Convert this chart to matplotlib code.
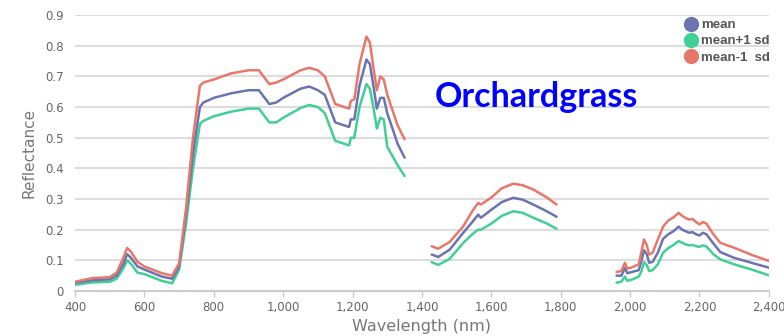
import numpy as np
import matplotlib.pyplot as plt
from matplotlib.lines import Line2D

# wavelength (nm); NaN separates the three spectral segments
wavelength = [400, 450, 500, 520, 540, 550, 560, 580, 600, 650, 680, 700, 720, 740, 760,
              770, 800, 850, 900, 930, 960, 980, 1000, 1050, 1075, 1100, 1120, 1150, 1190,
              1195, 1205, 1220, 1240, 1250, 1260, 1270, 1280, 1290, 1300, 1330, 1350,
              np.nan,
              1428, 1447, 1480, 1519, 1545, 1562, 1570, 1600, 1630, 1663, 1690, 1721, 1760, 1788,
              np.nan,
              1961, 1975, 1985, 1992, 2005, 2025, 2033, 2040, 2048, 2055, 2065, 2080, 2095, 2110,
              2125, 2140, 2150, 2160, 2170, 2180, 2190, 2200, 2210, 2220, 2240, 2260, 2300, 2350, 2400]

mean = [0.027, 0.035, 0.038, 0.05, 0.09, 0.12, 0.11, 0.08, 0.07, 0.047, 0.04, 0.08, 0.25, 0.45, 0.60,
        0.615, 0.63, 0.645, 0.655, 0.655, 0.61, 0.615, 0.63, 0.66, 0.667, 0.655, 0.64, 0.55, 0.535,
        0.56, 0.56, 0.67, 0.755, 0.74, 0.67, 0.595, 0.63, 0.63, 0.58, 0.48, 0.435,
        np.nan,
        0.119, 0.111, 0.135, 0.19, 0.225, 0.249, 0.239, 0.265, 0.29, 0.304, 0.298, 0.282, 0.26, 0.242,
        np.nan,
        0.05, 0.05, 0.075, 0.058, 0.062, 0.068, 0.10, 0.133, 0.12, 0.092, 0.095, 0.125, 0.17, 0.185,
        0.195, 0.21, 0.2, 0.195, 0.19, 0.192, 0.185, 0.181, 0.19, 0.185, 0.155, 0.127, 0.108, 0.092, 0.076]

mean_plus_sd = [0.02, 0.028, 0.03, 0.04, 0.075, 0.10, 0.09, 0.06, 0.055, 0.033, 0.025, 0.07, 0.22, 0.40, 0.545,
                0.555, 0.57, 0.585, 0.595, 0.595, 0.55, 0.55, 0.565, 0.597, 0.607, 0.60, 0.58, 0.49, 0.475,
                0.50, 0.50, 0.60, 0.675, 0.66, 0.60, 0.53, 0.565, 0.56, 0.47, 0.41, 0.375,
                np.nan,
                0.094, 0.085, 0.105, 0.157, 0.185, 0.20, 0.20, 0.22, 0.245, 0.26, 0.255, 0.239, 0.22, 0.203,
                np.nan,
                0.027, 0.03, 0.047, 0.033, 0.037, 0.047, 0.065, 0.094, 0.085, 0.065, 0.068, 0.087, 0.125, 0.14,
                0.15, 0.163, 0.157, 0.152, 0.149, 0.15, 0.146, 0.144, 0.149, 0.145, 0.12, 0.103, 0.087, 0.07, 0.051]

mean_minus_sd = [0.03, 0.042, 0.045, 0.06, 0.11, 0.14, 0.13, 0.095, 0.08, 0.058, 0.05, 0.09, 0.27, 0.50, 0.67,
                 0.68, 0.69, 0.71, 0.72, 0.72, 0.675, 0.68, 0.69, 0.72, 0.728, 0.72, 0.70, 0.61, 0.595,
                 0.62, 0.625, 0.74, 0.83, 0.81, 0.73, 0.655, 0.70, 0.69, 0.64, 0.54, 0.495,
                 np.nan,
                 0.146, 0.138, 0.16, 0.211, 0.26, 0.287, 0.282, 0.305, 0.335, 0.35, 0.345, 0.331, 0.305, 0.282,
                 np.nan,
                 0.062, 0.065, 0.092, 0.073, 0.077, 0.087, 0.13, 0.168, 0.15, 0.119, 0.125, 0.168, 0.21, 0.23,
                 0.24, 0.255, 0.245, 0.238, 0.233, 0.235, 0.225, 0.217, 0.225, 0.22, 0.185, 0.157, 0.141, 0.118, 0.098]

series_labels = ['mean', 'mean+1 sd', 'mean-1  sd']
series_colors = ['#6b73b0', '#40cf95', '#e8776b']

fig = plt.figure(figsize=(7.84, 3.36), dpi=100)
ax = fig.add_axes([0.0957, 0.134, 0.885, 0.821])

for y, c in [(mean_plus_sd, series_colors[1]), (mean, series_colors[0]), (mean_minus_sd, series_colors[2])]:
    ax.plot(wavelength, y, color=c, lw=1.8, solid_capstyle='round')

ax.set_xlim(400, 2400)
ax.set_ylim(0, 0.9)
ax.set_xticks(np.arange(400, 2401, 200))
ax.set_xticklabels([f'{v:,}' for v in range(400, 2401, 200)])
ax.set_yticks(np.arange(0, 0.91, 0.1))
ax.set_yticklabels(['0'] + [f'{v:.1f}' for v in np.arange(0.1, 0.91, 0.1)])

ax.grid(axis='y', color='#dddddd', lw=1.5)
ax.set_axisbelow(True)
for s in ['top', 'right', 'left']:
    ax.spines[s].set_visible(False)
ax.spines['bottom'].set_color('#cccccc')
ax.spines['bottom'].set_linewidth(1.5)
ax.tick_params(axis='x', colors='#cccccc', length=4, width=1, labelcolor='#666666', labelsize=8.5)
ax.tick_params(axis='y', length=0, labelcolor='#666666', labelsize=8.5, pad=8)

ax.set_xlabel('Wavelength (nm)', color='#777777', fontsize=11.5, labelpad=3)
ax.set_ylabel('Reflectance', color='#777777', fontsize=11, labelpad=6)

ax.text(1437, 0.60, 'Orchardgrass', color='#0000ff', fontsize=24.5, fontweight='bold',
        family='Lato', va='baseline', ha='left')

handles = [Line2D([], [], ls='none', marker='o', ms=10, color=c) for c in series_colors]
leg = fig.legend(handles, series_labels, loc='upper right', bbox_to_anchor=(770 / 784, 1 - 19 / 336),
                 frameon=False, handletextpad=0.25, handlelength=1.0, labelspacing=0.3,
                 borderaxespad=0, borderpad=0,
                 prop={'size': 9.5, 'weight': 'bold', 'family': 'Liberation Sans'})
for t in leg.get_texts():
    t.set_color('#555555')

fig.savefig('out.png', dpi=100)
